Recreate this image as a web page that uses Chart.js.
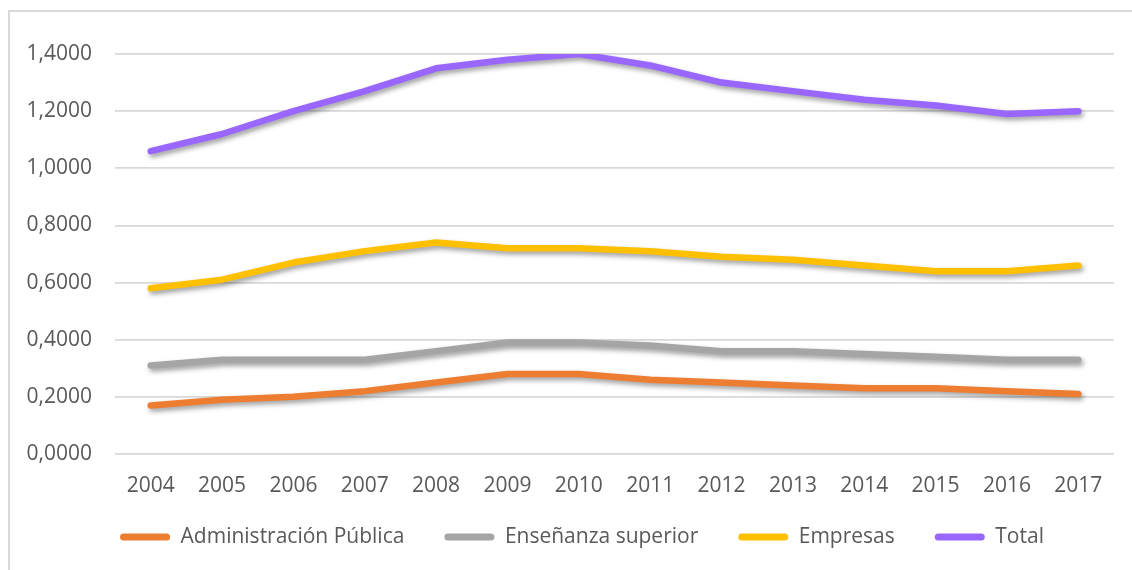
<!DOCTYPE html>
<html>
<head>
<meta charset="utf-8">
<script src="https://cdn.jsdelivr.net/npm/chart.js@4/dist/chart.umd.min.js"></script>
<style>
  html, body { margin: 0; padding: 0; background: #fff; }
  #wrap { position: relative; width: 1132px; height: 570px; overflow: hidden; }
  #frame { position: absolute; left: 8px; top: 10px; width: 1200px; height: 700px;
           border-left: 2px solid #d9d9d9; border-top: 2px solid #d9d9d9; box-sizing: border-box; }
  canvas { position: absolute; left: 0; top: 0; }
</style>
</head>
<body>
<div id="wrap">
  <div id="frame"></div>
  <canvas id="c" width="1132" height="570"></canvas>
</div>
<script>
const years = ['2004','2005','2006','2007','2008','2009','2010','2011','2012','2013','2014','2015','2016','2017'];
const administracion = [0.17,0.19,0.20,0.22,0.25,0.28,0.28,0.26,0.25,0.24,0.23,0.23,0.22,0.21];
const ensenanza = [0.31,0.33,0.33,0.33,0.36,0.39,0.39,0.38,0.36,0.36,0.35,0.34,0.33,0.33];
const empresas = [0.58,0.61,0.67,0.71,0.74,0.72,0.72,0.71,0.69,0.68,0.66,0.64,0.64,0.66];
const total = [1.06,1.12,1.20,1.27,1.35,1.38,1.40,1.36,1.30,1.27,1.24,1.22,1.19,1.20];
const seriesNames = ['Administración Pública','Enseñanza superior','Empresas','Total'];
const seriesColors = ['#ED7D31','#A5A5A5','#FFC000','#9966FF'];
const seriesData = [administracion, ensenanza, empresas, total];

const shadowPlugin = {
  id: 'shadow',
  beforeDatasetDraw(chart) {
    const ctx = chart.ctx;
    ctx.save();
    ctx.shadowColor = 'rgba(0,0,0,0.38)';
    ctx.shadowBlur = 5;
    ctx.shadowOffsetX = 2;
    ctx.shadowOffsetY = 3;
  },
  afterDatasetDraw(chart) {
    chart.ctx.restore();
  }
};

// nudge the (library-drawn) legend to the right, as in the reference
const legendShift = {
  id: 'legendShift',
  afterLayout(chart) {
    if (chart.legend) {
      chart.legend.left += 25;
      chart.legend.right += 25;
    }
  }
};

const FONT = "'Open Sans', 'DejaVu Sans', sans-serif";

new Chart(document.getElementById('c'), {
  type: 'line',
  data: {
    labels: years,
    datasets: seriesData.map((d, i) => ({
      label: seriesNames[i],
      data: d,
      borderColor: seriesColors[i],
      backgroundColor: seriesColors[i],
      borderWidth: 6.5,
      tension: 0,
      pointRadius: 0,
      pointHoverRadius: 0,
      borderCapStyle: 'round',
      borderJoinStyle: 'round',
      fill: false
    }))
  },
  options: {
    responsive: false,
    animation: false,
    layout: { padding: { top: 54, right: 18, bottom: 12.5, left: 0 } },
    plugins: {
      tooltip: { enabled: false },
      legend: {
        position: 'bottom',
        labels: {
          color: '#595959',
          font: { family: FONT, size: 21 },
          boxWidth: 50,
          boxHeight: 7,
          useBorderRadius: true,
          borderRadius: 3.5,
          padding: 40,
          generateLabels(chart) {
            return chart.data.datasets.map((ds, i) => ({
              text: ds.label,
              fillStyle: ds.borderColor,
              strokeStyle: ds.borderColor,
              lineWidth: 0,
              fontColor: '#595959',
              borderRadius: 3.5,
              datasetIndex: i
            }));
          }
        }
      }
    },
    scales: {
      x: {
        offset: true,
        grid: { display: false, drawTicks: false },
        border: { display: false },
        ticks: { color: '#595959', font: { family: FONT, size: 21 }, padding: -44.6, mirror: true, maxRotation: 0 },
        afterFit(scale) { scale.height = 32.5; scale.paddingLeft = 0; scale.paddingRight = 0; }
      },
      y: {
        min: 0,
        max: 1.4,
        grid: { color: '#D9D9D9', lineWidth: 1.8, drawTicks: false },
        border: { display: false },
        ticks: {
          stepSize: 0.2,
          color: '#595959',
          font: { family: FONT, size: 21 },
          padding: 23,
          callback: v => v.toFixed(4).replace('.', ',')
        },
        afterFit(scale) { scale.width = 115; }
      }
    }
  },
  plugins: [shadowPlugin, legendShift]
});
</script>
</body>
</html>
